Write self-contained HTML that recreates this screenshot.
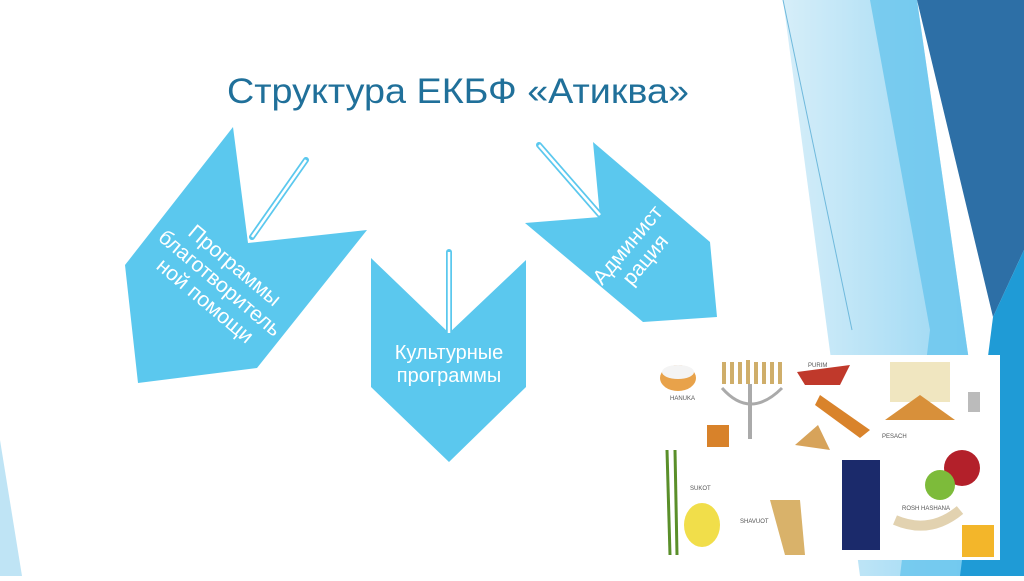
<!DOCTYPE html>
<html><head><meta charset="utf-8"><style>
body{margin:0;width:1024px;height:576px;overflow:hidden;background:#fff;font-family:"Liberation Sans",sans-serif}
</style></head><body>
<svg width="1024" height="576" viewBox="0 0 1024 576" xmlns="http://www.w3.org/2000/svg">
<defs><linearGradient id="lg" x1="0" y1="0" x2="1" y2="0"><stop offset="0" stop-color="#d6eef9"/><stop offset="1" stop-color="#8fd3f2"/></linearGradient></defs>
<polygon points="0,440 22,576 0,576" fill="#bfe4f5"/>
<polygon points="783,0 917,0 1000,576 860,576" fill="url(#lg)"/>
<polygon points="870,0 917,0 1000,576 900,576 930,330" fill="#69c6ee" opacity="0.8"/>
<polygon points="917,0 1024,0 1024,250 993,317" fill="#2d6fa6"/>
<polygon points="993,317 1024,250 1024,576 960,576" fill="#1f9bd6"/>
<line x1="783" y1="0" x2="852" y2="330" stroke="#6fb9dc" stroke-width="1"/>
<text x="458" y="103" text-anchor="middle" font-size="35" fill="#20709a" textLength="462" lengthAdjust="spacingAndGlyphs">Структура ЕКБФ «Атиква»</text>
<polygon points="233,127 248,243 367,230 257,368 138,383 125,265" fill="#5bc8ee"/>
<polygon points="371,258 449,333 526,260 526,387 449,462 371,387" fill="#5bc8ee"/>
<polygon points="593,142 600,217 525,223 643,322 717,317 710,242" fill="#5bc8ee"/>
<g stroke="#5bc8ee" stroke-width="6" stroke-linecap="round"><line x1="306" y1="160" x2="252" y2="237"/><line x1="449" y1="252" x2="449" y2="333"/><line x1="539" y1="145" x2="600" y2="215"/></g>
<g stroke="#fff" stroke-width="2.5"><line x1="306" y1="160" x2="252" y2="237"/><line x1="449" y1="252" x2="449" y2="333"/><line x1="539" y1="145" x2="600" y2="215"/></g>
<g fill="#fff" font-size="21" text-anchor="middle">
<g transform="translate(220,283) rotate(40)"><text y="-16">Программы</text><text y="7">благотворитель</text><text y="30">ной помощи</text></g>
<text x="449" y="359" font-size="20">Культурные</text><text x="449" y="382" font-size="20">программы</text>
<g transform="translate(636,252) rotate(-50)"><text y="-4">Админист</text><text y="19">рация</text></g>
</g>
<rect x="655" y="355" width="345" height="205" fill="#fff"/>
<ellipse cx="678" cy="378" rx="18" ry="13" fill="#e8a24a"/><ellipse cx="678" cy="372" rx="16" ry="7" fill="#f4f4f4"/>
<g fill="#cfae6a"><rect x="722" y="362" width="4" height="22"/><rect x="730" y="362" width="4" height="22"/><rect x="738" y="362" width="4" height="22"/><rect x="746" y="360" width="4" height="24"/><rect x="754" y="362" width="4" height="22"/><rect x="762" y="362" width="4" height="22"/><rect x="770" y="362" width="4" height="22"/><rect x="778" y="362" width="4" height="22"/></g>
<path d="M722 388 Q750 420 782 388" stroke="#aaa" stroke-width="3" fill="none"/><rect x="748" y="384" width="4" height="55" fill="#aaa"/>
<path d="M797 372 L850 365 L840 385 L805 385Z" fill="#c0392b"/>
<polygon points="820,395 870,430 860,438 815,405" fill="#d9832b"/>
<polygon points="795,445 818,425 830,450" fill="#d7a35a"/>
<rect x="890" y="362" width="60" height="40" fill="#f0e6c0"/>
<polygon points="885,420 920,395 955,420" fill="#d8903a"/>
<rect x="968" y="392" width="12" height="20" fill="#bbb"/>
<rect x="707" y="425" width="22" height="22" fill="#d8822a"/>
<rect x="842" y="460" width="38" height="90" fill="#1b2a6b"/>
<circle cx="962" cy="468" r="18" fill="#b3202a"/><circle cx="940" cy="485" r="15" fill="#7dbb3a"/>
<path d="M895 520 Q930 535 960 510" stroke="#e2d2b0" stroke-width="10" fill="none"/>
<rect x="962" y="525" width="32" height="32" fill="#f3b62a"/>
<ellipse cx="702" cy="525" rx="18" ry="22" fill="#f1de4a"/>
<g stroke="#5a8f2a" stroke-width="3"><line x1="667" y1="450" x2="670" y2="555"/><line x1="675" y1="450" x2="677" y2="555"/></g>
<path d="M770 500 L785 555 L805 555 L800 500Z" fill="#d9b26a"/>
<g font-size="6" fill="#555"><text x="670" y="400">HANUKA</text><text x="808" y="367">PURIM</text><text x="882" y="438">PESACH</text><text x="690" y="490">SUKOT</text><text x="740" y="523">SHAVUOT</text><text x="902" y="510">ROSH HASHANA</text></g>
</svg>
</body></html>
